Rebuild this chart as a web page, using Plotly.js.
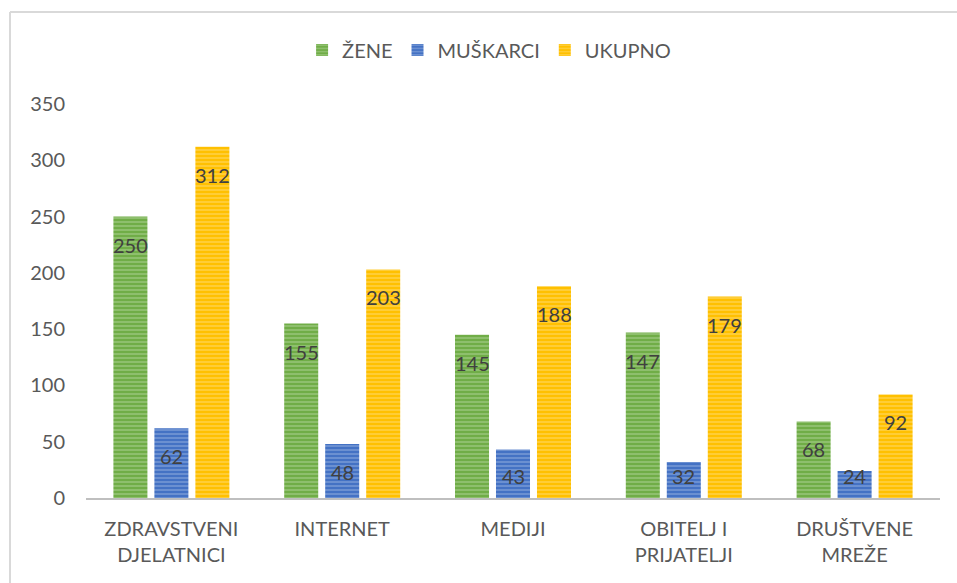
<!DOCTYPE html>
<html>
<head>
<meta charset="utf-8">
<script src="https://cdn.plot.ly/plotly-3.0.1.min.js"></script>
<style>html,body{margin:0;padding:0;background:#fff;}#chart{width:957px;height:583px;}</style>
</head>
<body>
<div id="chart"></div>
<script>
const categories = ["ZDRAVSTVENI<br>DJELATNICI", "INTERNET", "MEDIJI", "OBITELJ I<br>PRIJATELJI", "DRUŠTVENE<br>MREŽE"];
const zene = [250, 155, 145, 147, 68];
const muskarci = [62, 48, 43, 32, 24];
const ukupno = [312, 203, 188, 179, 92];
const yTicks = [0, 50, 100, 150, 200, 250, 300, 350];

const FONT = "Lato, 'Open Sans', sans-serif";
const series = [
  {name: "ŽENE", y: zene, color: "#70AD47", fg: "#C5E0B4"},
  {name: "MUŠKARCI", y: muskarci, color: "#4472C4", fg: "#B4C7E7"},
  {name: "UKUPNO", y: ukupno, color: "#FFC000", fg: "#FFE699"}
];

const traces = series.map(s => ({
  type: "bar",
  name: s.name,
  x: categories,
  y: s.y,
  marker: {
    color: s.color,
    line: {width: 0},
    pattern: {shape: "-", fgcolor: s.fg, size: 4, solidity: 0.35, fillmode: "overlay"}
  },
  hoverinfo: "none"
}));

// data labels (inside end, like the original)
const pxPerUnit = 394 / 350;
const annotations = [];
series.forEach((s, i) => {
  s.y.forEach((v, j) => {
    annotations.push({
      x: categories[j], y: v, xref: "x", yref: "y",
      text: String(v), showarrow: false,
      xshift: (i - 1) * 41,
      yshift: -Math.min(28, v * pxPerUnit - 22),
      yanchor: "middle",
      font: {family: FONT, size: 20, color: "#404040"}
    });
  });
});

const layout = {
  width: 957, height: 583,
  margin: {l: 86, r: 17, t: 104, b: 85},
  paper_bgcolor: "#fff", plot_bgcolor: "#fff",
  font: {family: FONT, size: 20, color: "#595959"},
  barmode: "group",
  bargap: 0.28,
  bargroupgap: 0.17,
  showlegend: true,
  legend: {
    orientation: "h", x: 0.472, xanchor: "center", y: 1.137, yanchor: "middle",
    font: {family: FONT, size: 20, color: "#595959"},
    itemwidth: 30, tracegroupgap: 0
  },
  xaxis: {
    showgrid: false, zeroline: false, showline: true, linecolor: "#BFBFBF", linewidth: 2,
    ticks: "", ticklabelstandoff: 12,
    tickfont: {family: FONT, size: 20, color: "#595959"},
    fixedrange: true
  },
  yaxis: {
    range: [0, 350], tickvals: yTicks, ticktext: yTicks.map(String),
    showgrid: false, zeroline: false, showline: false, ticks: "",
    ticklabelstandoff: 20,
    tickfont: {family: FONT, size: 20, color: "#595959"},
    fixedrange: true
  },
  annotations: annotations,
  shapes: [
    {type: "line", xref: "paper", yref: "paper", x0: (10 - 86) / 854, x1: (10 - 86) / 854, y0: 1.2335, y1: -0.3, line: {color: "#D9D9D9", width: 2}},
    {type: "line", xref: "paper", yref: "paper", x0: (10 - 86) / 854, x1: 1.05, y0: 1.2335, y1: 1.2335, line: {color: "#D9D9D9", width: 2}}
  ]
};

Plotly.newPlot("chart", traces, layout, {displayModeBar: false, staticPlot: true});
</script>
</body>
</html>
